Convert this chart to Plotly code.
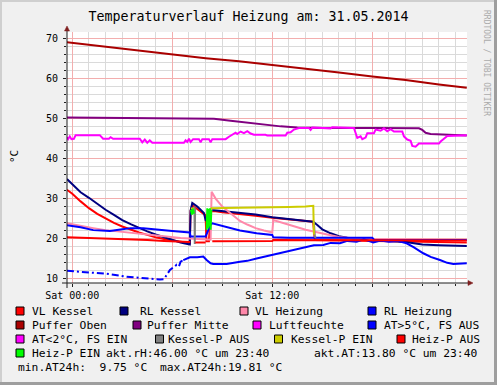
import plotly.graph_objects as go
import pandas as pd

# ---------------- data (hours after 31.05.2014 00:00, values in °C) ----------------
BASE = pd.Timestamp("2014-05-31 00:00")

vl_kessel_h = [-0.32, 0, 0.5, 1.0, 1.5, 2.0, 2.5, 3.0, 3.5, 4.0, 4.5, 5.0, 5.5, 6.0, 6.5, 7.05,
               7.1, 7.2, 7.5, 7.9, 8.0, 8.05, 8.2, 8.3, 8.5, 9.0, 10.0, 11.0, 12.0, 13.0, 14.0,
               14.45, 14.55, 16, 18, 20, 22, 23.67]
vl_kessel_v = [32.2, 31.2, 29.3, 27.6, 26.2, 25.0, 23.9, 23.0, 22.2, 21.5, 20.9, 20.3, 19.9, 19.5, 19.1, 18.8,
               27.0, 28.3, 27.4, 26.0, 25.8, 19.3, 19.3, 26.8, 26.9, 26.6, 26.2, 25.7, 25.2, 24.8, 24.4,
               24.2, 19.6, 19.5, 19.4, 19.3, 19.1, 19.0]

rl_kessel_h = [-0.32, 0, 0.5, 1.0, 1.5, 2.0, 2.5, 3.0, 3.5, 4.0, 4.5, 5.0, 5.5, 6.0, 6.5, 7.05,
               7.1, 7.2, 7.5, 7.9, 8.0, 8.1, 8.25, 8.5, 9.0, 10.0, 11.0, 12.0, 13.0, 14.0, 14.45,
               14.7, 15.0, 15.5, 16.0, 16.5, 17.0, 18.0, 19.0, 20.0, 20.5, 21.0, 22.0, 23.0, 23.67]
rl_kessel_v = [34.9, 33.6, 31.6, 30.2, 28.6, 27.2, 25.9, 24.6, 23.6, 22.6, 21.8, 21.0, 20.3, 19.6, 19.0, 18.5,
               27.0, 28.9, 28.0, 26.4, 24.6, 24.6, 27.1, 27.1, 26.9, 26.5, 26.0, 25.3, 24.9, 24.5, 24.2,
               23.4, 22.3, 21.3, 20.6, 20.2, 19.9, 19.6, 19.4, 19.1, 18.8, 18.5, 18.3, 18.2, 18.1]

vl_heizung_h = [-0.32, 0.5, 1.26, 2.0, 3.26, 4.26, 5.26, 6.5, 7.05, 8.0, 8.3, 8.36, 8.6, 9.0, 9.5,
                10.06, 10.5, 11.0, 11.5, 12.0, 12.06, 12.5, 13.0, 13.5, 14.0, 14.5, 15.0, 15.5,
                16.0, 17.0, 18.0, 19.0, 20.0, 23.67]
vl_heizung_v = [23.8, 23.1, 22.6, 22.1, 21.5, 21.0, 20.5, 20.1, 20.0, 19.7, 19.7, 31.7, 30.0, 28.0, 26.3,
                24.4, 23.5, 22.6, 22.0, 21.5, 24.6, 24.0, 23.4, 22.8, 22.2, 21.7, 21.2, 20.8,
                20.4, 20.0, 19.85, 19.8, 19.7, 19.6]

rl_heizung_h = [-0.32, 0.5, 1.26, 2.26, 3.0, 3.5, 4.26, 5.26, 6.0, 7.05, 7.1, 8.0, 8.3, 8.4, 9.0,
                10.06, 11.06, 12.0, 12.06, 13.0, 15.0, 18.0, 18.1, 20.0, 23.67]
rl_heizung_v = [23.3, 22.8, 22.1, 21.9, 22.3, 22.6, 22.6, 22.1, 21.9, 21.5, 20.5, 20.5, 23.5, 23.8, 23.1,
                22.0, 21.3, 20.9, 20.3, 20.2, 20.2, 20.2, 19.7, 19.6, 19.6]

puffer_oben_h = [-0.32, 2, 4, 6, 8, 10, 12, 14, 16, 18, 20, 22, 23.67]
puffer_oben_v = [69.2, 68.1, 67.1, 66.1, 65.2, 64.4, 63.5, 62.5, 61.6, 60.6, 59.7, 58.6, 57.8]

puffer_mitte_h = [-0.32, 4, 8, 8.5, 9.5, 10.5, 11.5, 12.5, 13.5, 15, 18, 20.8, 21.0, 21.2, 21.5, 22.5, 23.67]
puffer_mitte_v = [50.3, 50.2, 50.1, 50.0, 49.5, 49.0, 48.5, 48.1, 47.8, 47.7, 47.7, 47.6, 47.2, 46.5, 46.2, 46.0, 45.8]

luft_h = [-0.32, -0.25, -0.15, -0.05, 0.1, 0.2, 1.65, 1.85, 2.2, 2.3, 2.45, 4.05, 4.2, 4.35, 4.5, 4.65,
          4.8, 6.7, 6.8, 6.9, 7.0, 7.1, 7.25, 7.6, 7.7, 7.8, 8.2, 8.3, 8.4, 9.2, 9.4, 9.6, 9.8, 9.9,
          10.1, 10.3, 10.5, 10.7, 10.9, 11.6, 11.7, 12.8, 12.9, 13.1, 13.3, 13.6, 14.2, 14.3, 14.4,
          15.5, 15.6, 16.9, 17.0, 17.1, 17.3, 17.4, 17.6, 17.7, 18.1, 18.2, 18.5, 18.7, 18.9, 19.1,
          19.3, 19.8, 19.9, 20.1, 20.3, 20.4, 20.6, 20.8, 22.0, 22.1, 22.3, 22.5, 23.67]
luft_v = [45.4, 44.9, 45.6, 44.9, 45.0, 45.9, 45.9, 45.0, 45.0, 45.4, 45.0, 45.0, 44.1, 44.8, 44.0, 44.6,
          44.0, 44.0, 44.6, 44.2, 45.0, 44.2, 44.9, 44.9, 44.1, 44.9, 44.9, 44.1, 44.9, 44.9, 45.5, 46.1, 46.5, 46.2,
          46.8, 46.4, 46.9, 46.3, 46.0, 46.0, 45.8, 45.8, 46.5, 46.6, 47.3, 47.7, 47.7, 47.2, 47.8,
          47.6, 47.9, 47.7, 46.5, 45.2, 45.6, 44.9, 45.3, 46.4, 46.4, 47.3, 47.0, 47.6, 46.9, 47.4,
          46.8, 46.8, 45.6, 44.8, 44.5, 43.2, 43.0, 43.8, 43.8, 44.3, 45.0, 45.7, 45.9]

at_h = [-0.32, 0.5, 1.26, 2.0, 3.26, 4.0, 4.5, 5.26, 5.5, 5.7, 5.86, 6.26, 6.4, 6.5, 6.66, 7.06, 7.5,
        7.86, 8.06, 8.3, 8.46, 9.26, 10.06, 10.5, 11.06, 11.5, 12.06, 12.5, 13.06, 13.5, 14.06, 14.5,
        15.06, 15.5, 16.06, 16.5, 17.06, 17.5, 18.06, 18.5, 19.0, 19.5, 20.06, 20.5, 21.06, 21.5,
        22.06, 22.5, 22.86, 23.3, 23.67]
at_v = [11.9, 11.7, 11.5, 11.2, 10.4, 10.1, 9.9, 9.75, 9.8, 11.0, 12.1, 13.4, 13.0, 14.2, 14.6, 15.3, 15.3,
        15.5, 14.6, 13.8, 13.6, 13.6, 14.2, 14.4, 15.0, 15.4, 15.9, 16.4, 16.8, 17.3, 17.8, 18.3,
        18.4, 18.9, 18.8, 19.4, 19.2, 19.81, 19.0, 19.5, 19.2, 19.4, 18.8, 17.8, 16.3, 15.4,
        14.6, 13.9, 13.6, 13.7, 13.8]
AT_DASHED_UNTIL = 6.66

kp_aus_h = [7.33, 7.35, 7.37, 7.38, 14.5, 14.55, 14.62]
kp_aus_v = [28.0, 18.6, 27.5, None, 24.0, 20.5, 20.2]

kp_ein_h = [7.12, 7.3, 7.31, 8.3, 9.0, 10.0, 11.0, 12.0, 13.0, 14.0, 14.46, 14.5]
kp_ein_v = [27.6, 27.4, None, 27.6, 27.6, 27.7, 27.8, 27.8, 27.9, 28.0, 28.2, 21.0]

hp_aus_h = [-0.32, 0.5, 1.5, 2.5, 3.5, 4.5, 5.5, 6.5, 7.08, 7.2, 7.38, 8.0, 8.2, 8.4, 10.0, 12.0, 12.06,
            16.0, 20.0, 23.67]
hp_aus_v = [20.3, 20.2, 20.1, 19.9, 19.8, 19.6, 19.4, 19.2, 19.1, None, 19.0, 19.0, None, 19.3, 19.3,
            19.4, 19.6, 19.6, 19.5, 19.5]

hp_ein_h = [7.12, 7.18, 7.24, 7.3, 7.31, 8.06, 8.1, 8.14, 8.18, 8.22, 8.26, 8.3, 8.34]
hp_ein_v = [27.2, 26.0, 27.5, 26.2, None, 22.2, 27.6, 22.5, 27.4, 23.0, 27.6, 22.2, 27.2]

labels = ["VL Kessel", "RL Kessel", "VL Heizung", "RL Heizung", "Puffer Oben", "Puffer Mitte",
          "Luftfeuchte", "AT>5°C, FS AUS", "AT<2°C, FS EIN", "Kessel-P AUS", "Kessel-P EIN",
          "Heiz-P AUS", "Heiz-P EIN"]
colors = ["#FF0000", "#000080", "#FF88AA", "#0000FF", "#AA0000", "#800080",
          "#FF00FF", "#0000FF", "#FF00FF", "#808080", "#CCCC00", "#FF0000", "#00FF00"]

akt_rh = "46.00"
akt_at = "13.80"
akt_time = "23:40"
min_at = 9.75
max_at = 19.81
title_text = "Temperaturverlauf Heizung am: 31.05.2014"

# ---------------- layout geometry ----------------
W, H = 497, 385
L, R, T, B = 67, 467, 32, 283
MONO = "DejaVu Sans Mono"


def px_x(px):
    return (px - L) / (R - L)


def px_y(py):
    return (B - py) / (B - T)


def tt(hours):
    return [BASE + pd.Timedelta(hours=h) for h in hours]


series = {
    "VL Kessel": (vl_kessel_h, vl_kessel_v),
    "RL Kessel": (rl_kessel_h, rl_kessel_v),
    "VL Heizung": (vl_heizung_h, vl_heizung_v),
    "RL Heizung": (rl_heizung_h, rl_heizung_v),
    "Puffer Oben": (puffer_oben_h, puffer_oben_v),
    "Puffer Mitte": (puffer_mitte_h, puffer_mitte_v),
    "Luftfeuchte": (luft_h, luft_v),
    "AT>5°C, FS AUS": (at_h, at_v),
    "Kessel-P AUS": (kp_aus_h, kp_aus_v),
    "Kessel-P EIN": (kp_ein_h, kp_ein_v),
    "Heiz-P AUS": (hp_aus_h, hp_aus_v),
    "Heiz-P EIN": (hp_ein_h, hp_ein_v),
}

fig = go.Figure()
for name, col in zip(labels, colors):
    if name not in series:
        continue
    hh, vv = series[name]
    if name.startswith("AT>5"):
        h1 = [h for h in hh if h <= AT_DASHED_UNTIL]
        v1 = vv[:len(h1)]
        h2 = hh[len(h1) - 1:]
        v2 = vv[len(h1) - 1:]
        fig.add_trace(go.Scatter(x=tt(h1), y=v1, mode="lines", name=name, showlegend=False,
                                 line=dict(color=col, width=2, dash="7px,3px,2px,3px")))
        fig.add_trace(go.Scatter(x=tt(h2), y=v2, mode="lines", name=name, showlegend=False,
                                 line=dict(color=col, width=2)))
    else:
        fig.add_trace(go.Scatter(x=tt(hh), y=vv, mode="lines", name=name, showlegend=False,
                                 connectgaps=False, line=dict(color=col, width=2)))

MAJ = "#F3AEAE"
MIN = "#DADADA"
AXC = "#1F1F1F"

fig.update_layout(
    width=W, height=H, autosize=False,
    margin=dict(l=L, r=W - R, t=T, b=H - B, pad=0),
    paper_bgcolor="#F0F0F0",
    plot_bgcolor="#FFFFFF",
    showlegend=False,
    hovermode=False,
    title=dict(text=title_text, x=0.5, xref="container", xanchor="center",
               y=1 - 16 / H, yref="container", yanchor="middle",
               font=dict(family=MONO, size=13.3, color="#000000")),
    xaxis=dict(
        type="date", automargin=False,
        range=[BASE - pd.Timedelta(minutes=19), BASE + pd.Timedelta(hours=23, minutes=41)],
        tick0=BASE, dtick=6 * 3600000, ticklabelstep=2, tickformat="%a %H:%M",
        showgrid=True, gridcolor=MAJ, gridwidth=1,
        ticks="outside", ticklen=3, tickcolor=AXC,
        minor=dict(tick0=BASE, dtick=3600000, showgrid=True, gridcolor=MIN, gridwidth=1,
                   ticks="outside", ticklen=2, tickcolor=AXC),
        showline=False, zeroline=False,
        tickfont=dict(family=MONO, size=10, color="#000000"),
    ),
    yaxis=dict(
        automargin=False,
        range=[8.85, 71.75], tick0=0, dtick=10,
        showgrid=True, gridcolor=MAJ, gridwidth=1,
        ticks="outside", ticklen=3, tickcolor=AXC,
        minor=dict(tick0=0, dtick=2, showgrid=True, gridcolor=MIN, gridwidth=1,
                   ticks="outside", ticklen=2, tickcolor=AXC),
        showline=False, zeroline=False, ticklabelstandoff=3,
        tickfont=dict(family=MONO, size=10, color="#000000"),
    ),
)

shapes = []
annotations = []

# axis lines with arrows
shapes.append(dict(type="line", xref="paper", yref="paper", x0=px_x(62), x1=px_x(469),
                   y0=px_y(B), y1=px_y(B), line=dict(color=AXC, width=1), layer="above"))
shapes.append(dict(type="line", xref="paper", yref="paper", x0=px_x(L), x1=px_x(L),
                   y0=px_y(288), y1=px_y(30), line=dict(color=AXC, width=1), layer="above"))
ARROW = "#7F1F1F"
shapes.append(dict(type="path", xref="paper", yref="paper",
                   path=f"M {px_x(468)} {px_y(280.5)} L {px_x(473)} {px_y(B)} L {px_x(468)} {px_y(285.5)} Z",
                   fillcolor=ARROW, line=dict(color=ARROW, width=0.5), layer="above"))
shapes.append(dict(type="path", xref="paper", yref="paper",
                   path=f"M {px_x(64.5)} {px_y(31)} L {px_x(L)} {px_y(26)} L {px_x(69.5)} {px_y(31)} Z",
                   fillcolor=ARROW, line=dict(color=ARROW, width=0.5), layer="above"))


# outer frame shading
def rect(x0, y0, x1, y1, color):
    shapes.append(dict(type="rect", xref="paper", yref="paper",
                       x0=px_x(x0), x1=px_x(x1), y0=px_y(y1), y1=px_y(y0),
                       fillcolor=color, line=dict(width=0), layer="above"))


rect(0, 0, W, 2, "#CFCFCF")
rect(0, 0, 2, H, "#CFCFCF")
rect(W - 3, 0, W, H, "#9E9E9E")
rect(0, H - 3, W, H, "#9E9E9E")

# watermark
annotations.append(dict(text="RRDTOOL / TOBI OETIKER", xref="paper", yref="paper",
                        x=px_x(487), y=px_y(63), xanchor="center", yanchor="middle",
                        textangle=90, showarrow=False,
                        font=dict(family=MONO, size=8, color="#ABABAB")))
# y axis unit
annotations.append(dict(text="°C", xref="paper", yref="paper", x=px_x(14), y=px_y(157),
                        xanchor="center", yanchor="middle", textangle=-90, showarrow=False,
                        font=dict(family=MONO, size=11, color="#000000")))

# legend (rrdtool style)
LFONT = dict(family=MONO, size=11.3, color="#000000")
legend_pos = {  # label: (row y, box x, text x)
    "VL Kessel": (311, 16, 31), "RL Kessel": (311, 120, 139),
    "VL Heizung": (311, 240, 254), "RL Heizung": (311, 368, 383),
    "Puffer Oben": (325, 16, 31), "Puffer Mitte": (325, 133, 145.5),
    "Luftfeuchte": (325, 253, 267.5), "AT>5°C, FS AUS": (325, 368, 383),
    "AT<2°C, FS EIN": (339, 16, 31), "Kessel-P AUS": (339, 155.5, 167),
    "Kessel-P EIN": (339, 274.5, 289.5), "Heiz-P AUS": (339, 397, 411),
    "Heiz-P EIN": (353, 16, 31),
}
for name, col in zip(labels, colors):
    py, bx, tx = legend_pos[name]
    shapes.append(dict(type="rect", xref="paper", yref="paper",
                       x0=px_x(bx), x1=px_x(bx + 8), y0=px_y(py + 4), y1=px_y(py - 4),
                       fillcolor=col, line=dict(color="#000000", width=1), layer="above"))
    annotations.append(dict(text=name, xref="paper", yref="paper", x=px_x(tx), y=px_y(py),
                            xanchor="left", yanchor="middle", showarrow=False, font=LFONT,
                            borderpad=0))

extra_text = [
    (f"akt.rH:{akt_rh} °C um {akt_time}", 353, 105),
    (f"akt.AT:{akt_at} °C um {akt_time}", 353, 312.5),
    (f"min.AT24h:{min_at:6.2f} °C", 367, 16.5),
    (f"max.AT24h:{max_at:5.2f} °C", 367, 158.5),
]
for txt, py, tx in extra_text:
    annotations.append(dict(text=txt.replace(" ", "\u00a0"), xref="paper", yref="paper",
                            x=px_x(tx), y=px_y(py), xanchor="left", yanchor="middle",
                            showarrow=False, font=LFONT, borderpad=0))

fig.update_layout(shapes=shapes, annotations=annotations)
fig.write_html("out.html", config={"displayModeBar": False, "staticPlot": True},
               post_script="document.body.style.margin='0';document.body.style.overflow='hidden';")
